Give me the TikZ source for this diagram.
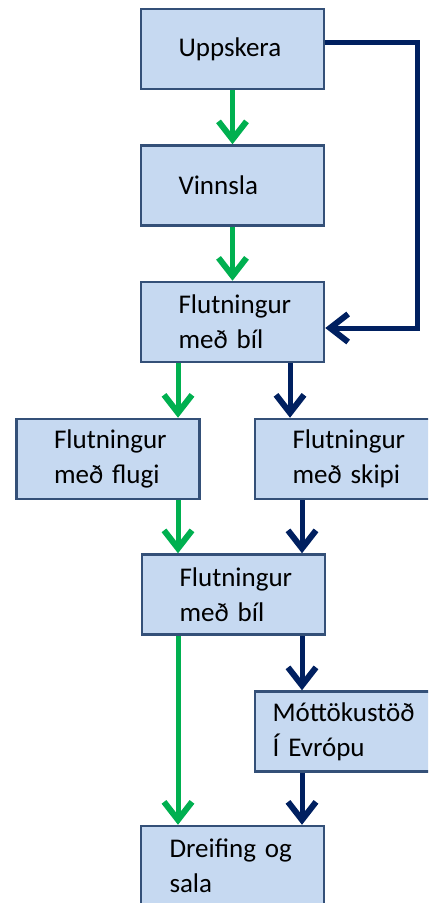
\documentclass[tikz,border=0pt]{standalone}
\usepackage{fontspec}
\setmainfont{Carlito}
\usetikzlibrary{arrows.meta}
\definecolor{boxfill}{RGB}{198,217,241}
\definecolor{boxline}{RGB}{52,80,120}
\definecolor{airgreen}{RGB}{0,176,80}
\definecolor{seanavy}{RGB}{0,32,96}

\begin{document}
\begin{tikzpicture}[x=0.5pt,y=-0.5pt,
        box/.style={draw=boxline,line width=1.25pt,fill=boxfill,minimum width=91.5pt,minimum height=40pt,
            inner sep=0pt,text width=54pt,align=left,font=\fontsize{13.5}{17.5}\selectfont},
        air/.style={draw=airgreen,line width=2.5pt,-{Straight Barb[length=9pt,width=14pt,line width=3pt]}},
        sea/.style={air,draw=seanavy}]

        \useasboundingbox (0,0) rectangle (428,903);
        \clip (0,0) rectangle (428,903);

        \node[box] (upp) at (232.5,49) {Uppskera};
        \node[box] (vin) at (232.5,185.5) {Vinnsla};
        \node[box] (bil1) at (232.5,322) {Flutningur\\með bíl};
        \node[box] (flug) at (108,459) {Flutningur\\með flugi};
        \node[box] (skip) at (346.5,459) {Flutningur\\með skipi};
        \node[box] (bil2) at (233.5,594.5) {Flutningur\\með bíl};
        \node[box,text width=74pt] (mott) at (346.5,731.5) {Móttökustöð\\Í Evrópu};
        \node[box,text width=63pt] (dreif) at (232.5,866) {Dreifing og\\sala};

        \coordinate (g) at (178,0);
        \coordinate (n1) at (290,0);
        \coordinate (n2) at (302,0);

        \draw[air] (upp) -- (vin);
        \draw[air] (vin) -- (bil1);
        \draw[sea] ([yshift=3pt]upp.east) -- ++(92,0) |- ([yshift=-3pt]bil1.east);
        \draw[air] (bil1.south -| g) -- (flug.north -| g);
        \draw[sea] (bil1.south -| n1) -- (skip.north -| n1);
        \draw[air] (flug.south -| g) -- (bil2.north -| g);
        \draw[sea] (skip.south -| n2) -- (bil2.north -| n2);
        \draw[air] (bil2.south -| g) -- (dreif.north -| g);
        \draw[sea] (bil2.south -| n2) -- (mott.north -| n2);
        \draw[sea] (mott.south -| n2) -- (dreif.north -| n2);

    \end{tikzpicture}
\end{document}
